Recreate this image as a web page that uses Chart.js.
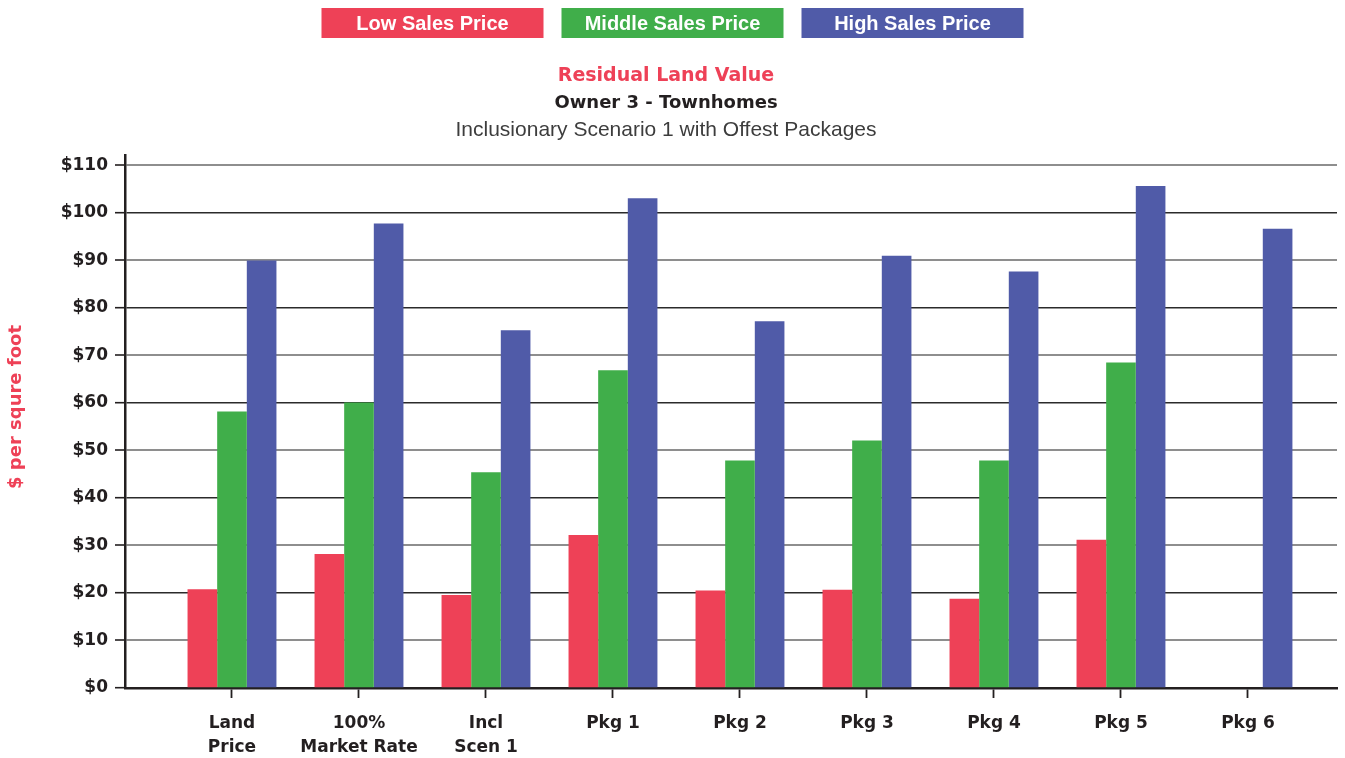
<!DOCTYPE html>
<html>
<head>
<meta charset="utf-8">
<title>Residual Land Value</title>
<script src="https://cdn.jsdelivr.net/npm/chart.js@4.4.0/dist/chart.umd.min.js"></script>
<style>
  html, body { margin: 0; padding: 0; background: #fff; }
</style>
</head>
<body>
<canvas id="landChart" width="1345" height="758"></canvas>
<script>
const categories = [
  ['Land', 'Price'], ['100%', 'Market Rate'], ['Incl', 'Scen 1'],
  'Pkg 1', 'Pkg 2', 'Pkg 3', 'Pkg 4', 'Pkg 5', 'Pkg 6'
];
const lowValues = [20.8, 28.2, 19.6, 32.2, 20.5, 20.7, 18.8, 31.2, null];
const middleValues = [58.2, 60.1, 45.4, 66.9, 47.9, 52.1, 47.9, 68.5, null];
const highValues = [90.0, 97.8, 75.3, 103.1, 77.2, 91.0, 87.7, 105.7, 96.7];
const yTickValues = [0, 10, 20, 30, 40, 50, 60, 70, 80, 90, 100, 110];

const titleText = 'Residual Land Value';
const subtitleText = 'Owner 3 - Townhomes';
const noteText = 'Inclusionary Scenario 1 with Offest Packages';
const yAxisTitle = '$ per squre foot';

const RED = '#ee4157';
const GREEN = '#40ae4a';
const BLUE = '#505ba8';
const INK = '#231f20';

const toPoints = arr => arr.map((v, i) => ({ x: i, y: v }));

// legend boxes, headings and the rotated y title are painted by hand
const headerPlugin = {
  id: 'header',
  afterDraw(chart) {
    const ctx = chart.ctx;
    ctx.save();

    const boxW = 222, boxH = 30, gap = 18;
    const sets = chart.data.datasets;
    let x = chart.width / 2 - (sets.length * boxW + (sets.length - 1) * gap) / 2;
    ctx.textAlign = 'center';
    ctx.textBaseline = 'alphabetic';
    ctx.font = 'bold 20px "Liberation Sans", Arial, sans-serif';
    sets.forEach(ds => {
      ctx.fillStyle = ds.backgroundColor;
      ctx.fillRect(x, 8, boxW, boxH);
      ctx.fillStyle = '#fff';
      ctx.fillText(ds.label, x + boxW / 2, 30);
      x += boxW + gap;
    });

    const cx = 666;
    ctx.fillStyle = RED;
    ctx.font = 'bold 19px "DejaVu Sans", sans-serif';
    ctx.fillText(titleText, cx, 81);
    ctx.fillStyle = INK;
    ctx.font = 'bold 18px "DejaVu Sans", sans-serif';
    ctx.fillText(subtitleText, cx, 108);
    ctx.fillStyle = '#3d3d3d';
    ctx.font = '21px "Liberation Sans", Arial, sans-serif';
    ctx.fillText(noteText, cx, 136);

    ctx.translate(16, 407);
    ctx.rotate(-Math.PI / 2);
    ctx.textBaseline = 'middle';
    ctx.fillStyle = RED;
    ctx.font = 'bold 18px "DejaVu Sans", sans-serif';
    ctx.fillText(yAxisTitle, 0, 0);
    ctx.restore();
  }
};

const ctx = document.getElementById('landChart').getContext('2d');
new Chart(ctx, {
  type: 'bar',
  data: {
    datasets: [
      { label: 'Low Sales Price', data: toPoints(lowValues), backgroundColor: RED },
      { label: 'Middle Sales Price', data: toPoints(middleValues), backgroundColor: GREEN },
      { label: 'High Sales Price', data: toPoints(highValues), backgroundColor: BLUE }
    ]
  },
  options: {
    responsive: false,
    animation: false,
    categoryPercentage: 0.7,
    barPercentage: 1.0,
    layout: { padding: { top: 155, left: 0, right: 8, bottom: 0 } },
    plugins: {
      legend: { display: false },
      title: { display: false },
      tooltip: { enabled: false }
    },
    scales: {
      x: {
        type: 'linear',
        offset: false,
        min: -0.8425,
        max: 8.701,
        afterBuildTicks: scale => { scale.ticks = categories.map((c, i) => ({ value: i })); },
        afterFit: scale => { scale.height = 70; },
        grid: {
          offset: false,
          drawOnChartArea: false,
          drawTicks: true,
          tickLength: 10,
          tickColor: INK,
          tickWidth: 1.8
        },
        border: { color: INK, width: 2.5 },
        ticks: {
          autoSkip: false,
          maxRotation: 0,
          padding: 14,
          color: INK,
          font: { family: '"DejaVu Sans", sans-serif', weight: 'bold', size: 17, lineHeight: '24px' },
          callback: v => categories[v]
        }
      },
      y: {
        min: 0,
        max: 112.2,
        afterBuildTicks: scale => { scale.ticks = yTickValues.map(v => ({ value: v })); },
        afterFit: scale => { scale.width = 125; },
        grid: {
          color: c => (c.tick && (c.tick.value / 10) % 2 === 1) ? '#8e8e8e' : '#2b2b2b',
          lineWidth: c => (c.tick && (c.tick.value / 10) % 2 === 1) ? 2 : 1.4,
          tickLength: 10,
          tickColor: INK,
          tickWidth: 1.6
        },
        border: { color: INK, width: 2.5 },
        ticks: {
          padding: 7,
          color: INK,
          font: { family: '"DejaVu Sans", sans-serif', weight: 'bold', size: 17 },
          callback: v => '$' + v
        }
      }
    }
  },
  plugins: [headerPlugin]
});
</script>
</body>
</html>
